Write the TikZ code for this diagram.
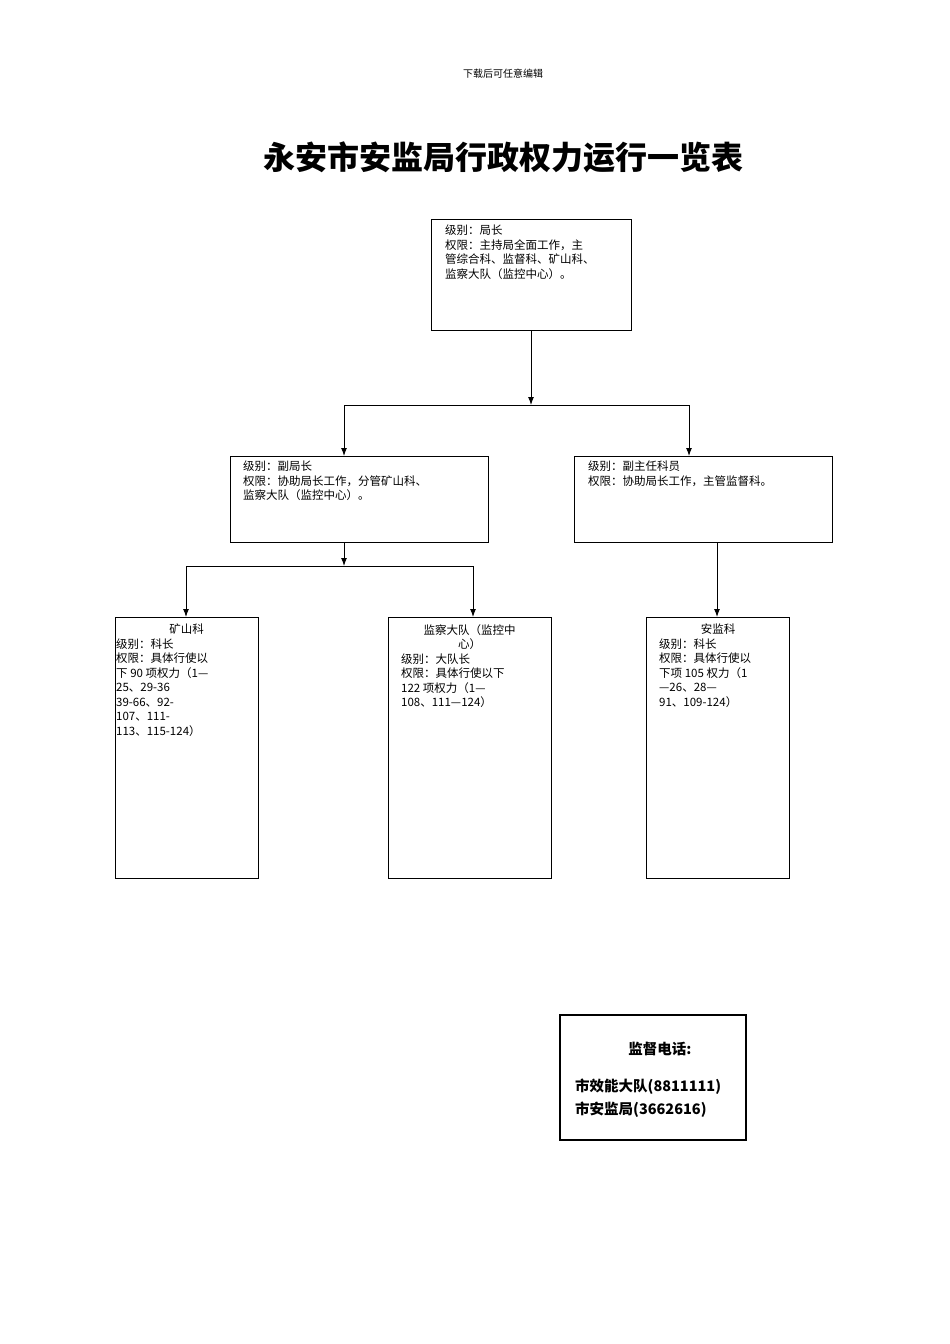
\documentclass[tikz,border=0pt]{standalone}
\usepackage{fontspec}
\newfontfamily\cjk{Noto Sans CJK SC}
\usetikzlibrary{arrows.meta}
\begin{document}
\begin{tikzpicture}[x=1pt,y=-1pt,
 box/.style={draw,line width=1pt},
 txt/.style={anchor=north west,align=left,inner sep=0pt,font=\cjk\fontsize{11.5}{14.5}\selectfont},
 arr/.style={line width=1pt,-{Latex[length=8pt,width=6pt]}},
 ln/.style={line width=1pt}]
\useasboundingbox (0,0) rectangle (950,1344);
\fill[white] (0,0) rectangle (950,1344);
\node[font=\cjk\fontsize{10}{12}\selectfont] (hdr) at (503,74) {下载后可任意编辑};
\node[font=\cjk\bfseries\fontsize{32}{36}\selectfont] (title) at (503,157) {永安市安监局行政权力运行一览表};
% boxes
\draw[box] (431,219) rectangle (631,330);
\node[txt] (t1) at (445,225) {级别：局长\\权限：主持局全面工作，主\\管综合科、监督科、矿山科、\\监察大队（监控中心）。};
\draw[box] (230,456) rectangle (488,542);
\node[txt] (t2) at (243,461) {级别：副局长\\权限：协助局长工作，分管矿山科、\\监察大队（监控中心）。};
\draw[box] (574,456) rectangle (832,542);
\node[txt] (t3) at (588,461) {级别：副主任科员\\权限：协助局长工作，主管监督科。};
\draw[box] (115,617) rectangle (258,878);
\node[txt] (t4) at (116,624) {\makebox[141pt][c]{矿山科}\\级别：科长\\权限：具体行使以\\下 90 项权力（1—\\25、29-36\\39-66、92-\\107、111-\\113、115-124）};
\draw[box] (388,617) rectangle (551,878);
\node[txt] (t5) at (401,624) {\makebox[137pt][c]{监察大队（监控中}\\\makebox[137pt][c]{心）}\\级别：大队长\\权限：具体行使以下\\122 项权力（1—\\108、111—124）};
\draw[box] (646,617) rectangle (789,878);
\node[txt] (t6) at (659,624) {\makebox[118pt][c]{安监科}\\级别：科长\\权限：具体行使以\\下项 105 权力（1\\—26、28—\\91、109-124）};
% connectors
\coordinate (a0) at (531,330);
\coordinate (a1) at (531,405);
\coordinate (hl) at (344,405);
\coordinate (hr) at (689,405);
\draw[arr] (a0) -- (a1);
\draw[ln] (hl) -- (hr);
\draw[arr] (hl) -- (344,456);
\draw[arr] (hr) -- (689,456);
\coordinate (b0) at (344,542);
\coordinate (b1) at (344,566);
\draw[arr] (b0) -- (b1);
\draw[ln] (186,566) -- (473,566);
\draw[arr] (186,566) -- (186,617);
\draw[arr] (473,566) -- (473,617);
\draw[arr] (717,542) -- (717,617);
% supervision
\draw[line width=2.5pt] (560,1015) rectangle (746,1140);
\node[font=\cjk\bfseries\fontsize{14.5}{18}\selectfont] (s1) at (660,1049) {监督电话:};
\node[anchor=west,inner sep=0pt,font=\cjk\bfseries\fontsize{14.5}{18}\selectfont] (s2) at (575,1087) {市效能大队(8811111)};
\node[anchor=west,inner sep=0pt,font=\cjk\bfseries\fontsize{14.5}{18}\selectfont] (s3) at (575,1110) {市安监局(3662616)};
\end{tikzpicture}
\end{document}
